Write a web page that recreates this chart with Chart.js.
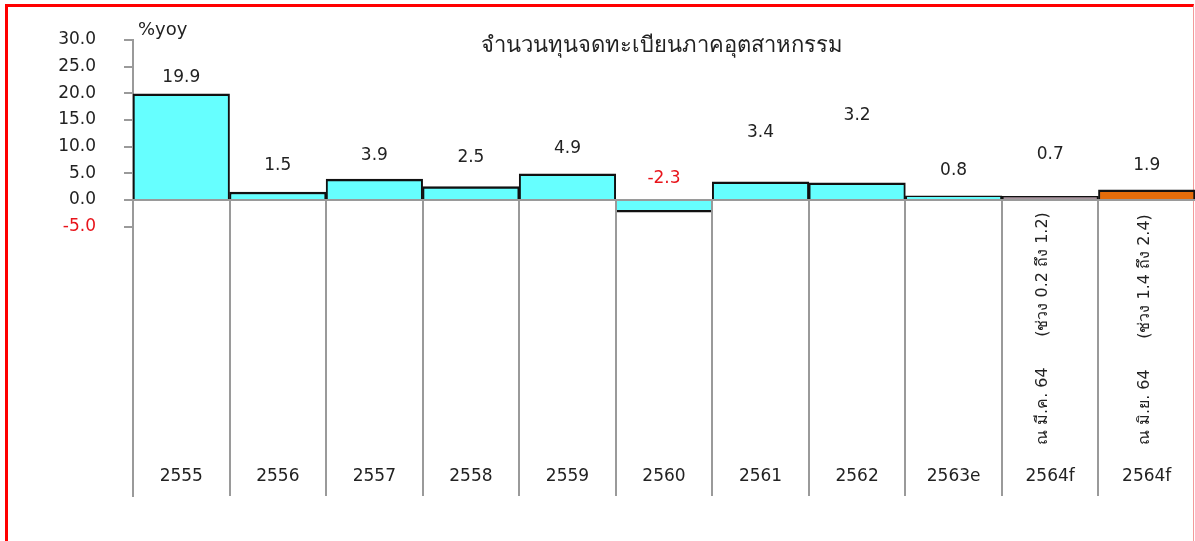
<!DOCTYPE html>
<html>
<head>
<meta charset="utf-8">
<script src="https://cdn.jsdelivr.net/npm/chart.js@4/dist/chart.umd.min.js"></script>
<style>
  html, body { margin: 0; padding: 0; background: #fff; }
  #frame {
    position: absolute; left: 5px; top: 4px; width: 1185px; height: 600px;
    border-left: 3px solid #f00; border-top: 3px solid #f00; border-right: 1px solid #f39a9a;
  }
  #wrap { position: absolute; left: 0; top: 0; width: 1195px; height: 541px; }
</style>
</head>
<body>
<div id="frame"></div>
<div id="wrap"><canvas id="chart"></canvas></div>
<script>
/* ── Données ─────────────────────────────────────────── */
const categories = ['2555', '2556', '2557', '2558', '2559', '2560', '2561', '2562', '2563e', '2564f', '2564f'];
const values     = [19.9, 1.5, 3.9, 2.5, 4.9, -2.3, 3.4, 3.2, 0.8, 0.7, 1.9];
const barColors  = ['#66ffff', '#66ffff', '#66ffff', '#66ffff', '#66ffff', '#66ffff',
                    '#66ffff', '#66ffff', '#66ffff', '#a8949f', '#e46c0a'];
const notes      = ['', '', '', '', '', '', '', '', '',
                    'ณ มี.ค. 64      (ช่วง 0.2 ถึง 1.2)',
                    'ณ มิ.ย. 64      (ช่วง 1.4 ถึง 2.4)'];
const chartTitle = 'จำนวนทุนจดทะเบียนภาคอุตสาหกรรม';
const unitLabel  = '%yoy';

// hauteur des étiquettes au-dessus de la barre (px), placées à la main comme dans l'original
const labelLift  = [16, 26, 24, 29, 25, 21, 49, 67, 25, 42, 24];

const FONT  = '"DejaVu Sans", Tahoma, sans-serif';
const GRAY  = '#9a9a9a';
const RED   = '#e8141b';
const INK   = '#222';

/* ── Plugin : séparateurs, valeurs, notes, titre ─────── */
const overlay = {
  id: 'overlay',
  afterDatasetsDraw(chart) {
    const { ctx, chartArea, scales: { x, y } } = chart;
    const y0 = y.getPixelForValue(0);
    ctx.save();

    // séparateurs verticaux sous la ligne zéro
    ctx.strokeStyle = GRAY;
    ctx.lineWidth = 2;
    for (let i = 1; i < categories.length; i++) {
      const px = Math.round((x.getPixelForValue(i - 1) + x.getPixelForValue(i)) / 2);
      ctx.beginPath();
      ctx.moveTo(px, y0);
      ctx.lineTo(px, chartArea.bottom);
      ctx.stroke();
    }

    // valeurs
    ctx.font = '17px ' + FONT;
    ctx.textAlign = 'center';
    ctx.textBaseline = 'middle';
    values.forEach((v, i) => {
      const base = v < 0 ? y0 : y.getPixelForValue(v);
      ctx.fillStyle = v < 0 ? RED : INK;
      ctx.fillText(v.toFixed(1), x.getPixelForValue(i), base - labelLift[i]);
    });

    // notes verticales
    ctx.font = '16px ' + FONT;
    ctx.fillStyle = INK;
    ctx.textAlign = 'left';
    notes.forEach((t, i) => {
      if (!t) return;
      ctx.save();
      ctx.translate(x.getPixelForValue(i) - (i === 9 ? 7 : 2), 445);
      ctx.rotate(-Math.PI / 2);
      ctx.fillText(t, 0, 0);
      ctx.restore();
    });

    // titre + unité
    ctx.font = '22px ' + FONT;
    ctx.textAlign = 'center';
    ctx.fillText(chartTitle, 662, 46);
    ctx.font = '18px ' + FONT;
    ctx.textAlign = 'left';
    ctx.fillText(unitLabel, chartArea.left + 5, 30);

    ctx.restore();
  }
};

new Chart(document.getElementById('chart'), {
  type: 'bar',
  data: {
    labels: categories,
    datasets: [{
      data: values,
      backgroundColor: barColors,
      borderColor: '#111',
      borderWidth: ctx => ctx.raw < 0
        ? { top: 0, left: 0, right: 0, bottom: 2.5 }
        : { top: 2.5, left: 2, right: 2, bottom: 0 },
      borderSkipped: false,
      barPercentage: 1,
      categoryPercentage: 1,
    }]
  },
  options: {
    responsive: true,
    maintainAspectRatio: false,
    animation: false,
    layout: { padding: { top: 40, bottom: 45, left: 0, right: 0 } },
    plugins: { legend: { display: false }, tooltip: { enabled: false }, title: { display: false } },
    scales: {
      x: {
        type: 'category',
        position: { y: -49 },
        grid: { display: false },
        border: { display: false },
        ticks: { color: INK, font: { family: FONT, size: 17 }, padding: -3, maxRotation: 0, autoSkip: false },
      },
      y: {
        min: -55.5,
        max: 30,
        z: 1,
        afterFit: s => { s.width = 133; },
        border: { color: GRAY, width: 2 },
        grid: {
          lineWidth: 2,
          tickLength: 9,
          color: c => c.tick && c.tick.value === 0 ? GRAY : 'rgba(0,0,0,0)',
          tickColor: c => c.tick && c.tick.value >= -5 ? GRAY : 'rgba(0,0,0,0)',
        },
        ticks: {
          stepSize: 5,
          autoSkip: false,
          padding: 28,
          font: { family: FONT, size: 17 },
          color: c => c.tick && c.tick.value < 0 ? RED : INK,
          callback: v => v >= -5 ? Number(v).toFixed(1) : '',
        },
      },
    },
  },
  plugins: [overlay],
});
</script>
</body>
</html>
